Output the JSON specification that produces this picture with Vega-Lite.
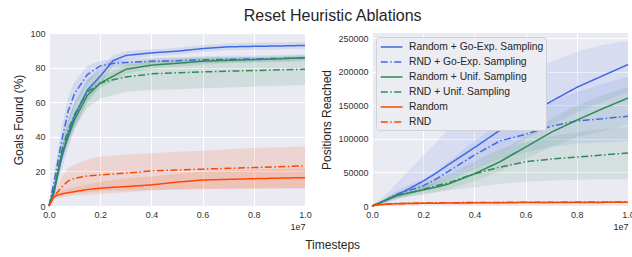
{
"$schema": "https://vega.github.io/schema/vega-lite/v6.json",
"background": "white",
"padding": {"left": 12, "top": 8, "right": 0, "bottom": 2},
"title": {"text": "Reset Heuristic Ablations", "fontSize": 16, "fontWeight": "normal", "font": "Liberation Sans", "color": "#262626", "anchor": "middle", "offset": 5, "dx": 9},
"datasets": {
"goals": [
{"series":"Random + Go-Exp. Sampling","t":0,"mean":0,"lo":0,"hi":0},
{"series":"Random + Go-Exp. Sampling","t":0.02,"mean":10,"lo":6,"hi":14},
{"series":"Random + Go-Exp. Sampling","t":0.05,"mean":28,"lo":21,"hi":35},
{"series":"Random + Go-Exp. Sampling","t":0.075,"mean":42,"lo":34,"hi":50},
{"series":"Random + Go-Exp. Sampling","t":0.1,"mean":52,"lo":44,"hi":60},
{"series":"Random + Go-Exp. Sampling","t":0.15,"mean":67,"lo":61,"hi":73},
{"series":"Random + Go-Exp. Sampling","t":0.2,"mean":75,"lo":70,"hi":80},
{"series":"Random + Go-Exp. Sampling","t":0.25,"mean":84,"lo":81,"hi":87},
{"series":"Random + Go-Exp. Sampling","t":0.3,"mean":87,"lo":84.5,"hi":89.5},
{"series":"Random + Go-Exp. Sampling","t":0.4,"mean":88.5,"lo":86.5,"hi":90.5},
{"series":"Random + Go-Exp. Sampling","t":0.5,"mean":89.5,"lo":87.5,"hi":91.5},
{"series":"Random + Go-Exp. Sampling","t":0.6,"mean":91,"lo":89,"hi":93},
{"series":"Random + Go-Exp. Sampling","t":0.7,"mean":92,"lo":90,"hi":94},
{"series":"Random + Go-Exp. Sampling","t":0.8,"mean":92.3,"lo":90.3,"hi":94.3},
{"series":"Random + Go-Exp. Sampling","t":0.9,"mean":92.5,"lo":90.5,"hi":94.5},
{"series":"Random + Go-Exp. Sampling","t":1,"mean":92.8,"lo":90.8,"hi":94.8},
{"series":"RND + Go-Exp. Sampling","t":0,"mean":0,"lo":0,"hi":0},
{"series":"RND + Go-Exp. Sampling","t":0.02,"mean":14,"lo":9,"hi":19},
{"series":"RND + Go-Exp. Sampling","t":0.05,"mean":38,"lo":30,"hi":46},
{"series":"RND + Go-Exp. Sampling","t":0.075,"mean":55,"lo":47,"hi":63},
{"series":"RND + Go-Exp. Sampling","t":0.1,"mean":65,"lo":58,"hi":72},
{"series":"RND + Go-Exp. Sampling","t":0.15,"mean":76,"lo":71,"hi":81},
{"series":"RND + Go-Exp. Sampling","t":0.2,"mean":81,"lo":78,"hi":84},
{"series":"RND + Go-Exp. Sampling","t":0.25,"mean":82.4,"lo":80.4,"hi":84.4},
{"series":"RND + Go-Exp. Sampling","t":0.3,"mean":83,"lo":81,"hi":85},
{"series":"RND + Go-Exp. Sampling","t":0.4,"mean":83.6,"lo":81.6,"hi":85.6},
{"series":"RND + Go-Exp. Sampling","t":0.5,"mean":84,"lo":82,"hi":86},
{"series":"RND + Go-Exp. Sampling","t":0.6,"mean":84.5,"lo":82.5,"hi":86.5},
{"series":"RND + Go-Exp. Sampling","t":0.7,"mean":84.8,"lo":82.8,"hi":86.8},
{"series":"RND + Go-Exp. Sampling","t":0.8,"mean":85,"lo":83,"hi":87},
{"series":"RND + Go-Exp. Sampling","t":0.9,"mean":85.3,"lo":83.3,"hi":87.3},
{"series":"RND + Go-Exp. Sampling","t":1,"mean":85.7,"lo":83.7,"hi":87.7},
{"series":"Random + Unif. Sampling","t":0,"mean":0,"lo":0,"hi":0},
{"series":"Random + Unif. Sampling","t":0.02,"mean":8,"lo":5,"hi":11},
{"series":"Random + Unif. Sampling","t":0.05,"mean":30,"lo":26,"hi":34},
{"series":"Random + Unif. Sampling","t":0.075,"mean":40,"lo":36,"hi":44},
{"series":"Random + Unif. Sampling","t":0.1,"mean":50,"lo":46,"hi":54},
{"series":"Random + Unif. Sampling","t":0.15,"mean":64,"lo":60,"hi":68},
{"series":"Random + Unif. Sampling","t":0.2,"mean":71,"lo":68,"hi":74},
{"series":"Random + Unif. Sampling","t":0.25,"mean":75,"lo":72,"hi":78},
{"series":"Random + Unif. Sampling","t":0.3,"mean":79,"lo":76.5,"hi":81.5},
{"series":"Random + Unif. Sampling","t":0.4,"mean":81.4,"lo":79.4,"hi":83.4},
{"series":"Random + Unif. Sampling","t":0.5,"mean":82.5,"lo":80.5,"hi":84.5},
{"series":"Random + Unif. Sampling","t":0.6,"mean":83.7,"lo":81.7,"hi":85.7},
{"series":"Random + Unif. Sampling","t":0.7,"mean":84.2,"lo":82.7,"hi":85.7},
{"series":"Random + Unif. Sampling","t":0.8,"mean":84.6,"lo":83.1,"hi":86.1},
{"series":"Random + Unif. Sampling","t":0.9,"mean":85.1,"lo":83.6,"hi":86.6},
{"series":"Random + Unif. Sampling","t":1,"mean":85.7,"lo":84.2,"hi":87.2},
{"series":"RND + Unif. Sampling","t":0,"mean":0,"lo":0,"hi":0},
{"series":"RND + Unif. Sampling","t":0.02,"mean":9,"lo":6,"hi":12},
{"series":"RND + Unif. Sampling","t":0.05,"mean":32,"lo":26,"hi":38},
{"series":"RND + Unif. Sampling","t":0.075,"mean":44,"lo":37,"hi":50},
{"series":"RND + Unif. Sampling","t":0.1,"mean":53,"lo":45,"hi":60},
{"series":"RND + Unif. Sampling","t":0.15,"mean":66,"lo":57,"hi":73},
{"series":"RND + Unif. Sampling","t":0.2,"mean":71,"lo":62,"hi":78},
{"series":"RND + Unif. Sampling","t":0.25,"mean":73,"lo":64,"hi":81},
{"series":"RND + Unif. Sampling","t":0.3,"mean":74.5,"lo":66,"hi":83},
{"series":"RND + Unif. Sampling","t":0.4,"mean":76.4,"lo":67,"hi":85},
{"series":"RND + Unif. Sampling","t":0.5,"mean":77,"lo":67.5,"hi":85.5},
{"series":"RND + Unif. Sampling","t":0.6,"mean":77.5,"lo":68,"hi":86},
{"series":"RND + Unif. Sampling","t":0.7,"mean":77.9,"lo":68.5,"hi":86},
{"series":"RND + Unif. Sampling","t":0.8,"mean":78.3,"lo":69,"hi":86},
{"series":"RND + Unif. Sampling","t":0.9,"mean":78.7,"lo":69.5,"hi":86},
{"series":"RND + Unif. Sampling","t":1,"mean":79,"lo":70,"hi":86.5},
{"series":"Random","t":0,"mean":0,"lo":0,"hi":0},
{"series":"Random","t":0.02,"mean":5.6,"lo":4,"hi":7},
{"series":"Random","t":0.05,"mean":7,"lo":5,"hi":9},
{"series":"Random","t":0.075,"mean":7.7,"lo":5.5,"hi":10},
{"series":"Random","t":0.1,"mean":8.3,"lo":6,"hi":11},
{"series":"Random","t":0.15,"mean":9.5,"lo":6.5,"hi":12.5},
{"series":"Random","t":0.2,"mean":10.3,"lo":7,"hi":14},
{"series":"Random","t":0.25,"mean":10.8,"lo":7.5,"hi":15},
{"series":"Random","t":0.3,"mean":11.2,"lo":8,"hi":16},
{"series":"Random","t":0.4,"mean":12.2,"lo":9,"hi":17},
{"series":"Random","t":0.5,"mean":13.8,"lo":9.5,"hi":18.5},
{"series":"Random","t":0.6,"mean":15,"lo":10,"hi":20},
{"series":"Random","t":0.7,"mean":15.4,"lo":10,"hi":20.5},
{"series":"Random","t":0.8,"mean":15.8,"lo":10.3,"hi":21},
{"series":"Random","t":0.9,"mean":16.1,"lo":10.3,"hi":21.5},
{"series":"Random","t":1,"mean":16.4,"lo":10.3,"hi":22},
{"series":"RND","t":0,"mean":0,"lo":0,"hi":0},
{"series":"RND","t":0.02,"mean":5.6,"lo":4,"hi":8},
{"series":"RND","t":0.05,"mean":11,"lo":6,"hi":17},
{"series":"RND","t":0.075,"mean":14.5,"lo":7,"hi":22},
{"series":"RND","t":0.1,"mean":16,"lo":7.5,"hi":24},
{"series":"RND","t":0.15,"mean":17.4,"lo":8,"hi":27},
{"series":"RND","t":0.2,"mean":18,"lo":8.5,"hi":28.6},
{"series":"RND","t":0.25,"mean":18.5,"lo":9,"hi":29.2},
{"series":"RND","t":0.3,"mean":19,"lo":9,"hi":29.7},
{"series":"RND","t":0.4,"mean":20.3,"lo":9.3,"hi":30.5},
{"series":"RND","t":0.5,"mean":20.8,"lo":9.5,"hi":31.3},
{"series":"RND","t":0.6,"mean":21.3,"lo":9.7,"hi":32},
{"series":"RND","t":0.7,"mean":21.8,"lo":9.9,"hi":32.8},
{"series":"RND","t":0.8,"mean":22.2,"lo":10,"hi":33.5},
{"series":"RND","t":0.9,"mean":22.7,"lo":10.1,"hi":34},
{"series":"RND","t":1,"mean":23.2,"lo":10.3,"hi":34.4}
],
"positions": [
{"series":"Random + Go-Exp. Sampling","t":0,"mean":0,"lo":0,"hi":0},
{"series":"Random + Go-Exp. Sampling","t":0.02,"mean":3000,"lo":1000,"hi":7000},
{"series":"Random + Go-Exp. Sampling","t":0.05,"mean":8000,"lo":4000,"hi":16000},
{"series":"Random + Go-Exp. Sampling","t":0.075,"mean":13000,"lo":7000,"hi":25000},
{"series":"Random + Go-Exp. Sampling","t":0.1,"mean":17000,"lo":10000,"hi":35000},
{"series":"Random + Go-Exp. Sampling","t":0.15,"mean":27000,"lo":17000,"hi":55000},
{"series":"Random + Go-Exp. Sampling","t":0.2,"mean":37000,"lo":25000,"hi":75000},
{"series":"Random + Go-Exp. Sampling","t":0.25,"mean":49000,"lo":33000,"hi":95000},
{"series":"Random + Go-Exp. Sampling","t":0.3,"mean":62000,"lo":42000,"hi":115000},
{"series":"Random + Go-Exp. Sampling","t":0.4,"mean":87000,"lo":60000,"hi":150000},
{"series":"Random + Go-Exp. Sampling","t":0.5,"mean":113000,"lo":80000,"hi":175000},
{"series":"Random + Go-Exp. Sampling","t":0.6,"mean":135000,"lo":100000,"hi":198000},
{"series":"Random + Go-Exp. Sampling","t":0.7,"mean":156000,"lo":120000,"hi":215000},
{"series":"Random + Go-Exp. Sampling","t":0.8,"mean":177000,"lo":140000,"hi":230000},
{"series":"Random + Go-Exp. Sampling","t":0.9,"mean":194000,"lo":155000,"hi":240000},
{"series":"Random + Go-Exp. Sampling","t":1,"mean":211000,"lo":170000,"hi":246000},
{"series":"RND + Go-Exp. Sampling","t":0,"mean":0,"lo":0,"hi":0},
{"series":"RND + Go-Exp. Sampling","t":0.02,"mean":3000,"lo":2000,"hi":5000},
{"series":"RND + Go-Exp. Sampling","t":0.05,"mean":8000,"lo":5000,"hi":11000},
{"series":"RND + Go-Exp. Sampling","t":0.075,"mean":13000,"lo":9000,"hi":17000},
{"series":"RND + Go-Exp. Sampling","t":0.1,"mean":18000,"lo":12000,"hi":24000},
{"series":"RND + Go-Exp. Sampling","t":0.15,"mean":24000,"lo":17000,"hi":32000},
{"series":"RND + Go-Exp. Sampling","t":0.2,"mean":30000,"lo":22000,"hi":40000},
{"series":"RND + Go-Exp. Sampling","t":0.25,"mean":40000,"lo":30000,"hi":52000},
{"series":"RND + Go-Exp. Sampling","t":0.3,"mean":52000,"lo":38000,"hi":66000},
{"series":"RND + Go-Exp. Sampling","t":0.4,"mean":76000,"lo":55000,"hi":97000},
{"series":"RND + Go-Exp. Sampling","t":0.5,"mean":97000,"lo":70000,"hi":125000},
{"series":"RND + Go-Exp. Sampling","t":0.6,"mean":107000,"lo":80000,"hi":140000},
{"series":"RND + Go-Exp. Sampling","t":0.7,"mean":119000,"lo":88000,"hi":155000},
{"series":"RND + Go-Exp. Sampling","t":0.8,"mean":127000,"lo":93000,"hi":170000},
{"series":"RND + Go-Exp. Sampling","t":0.9,"mean":130000,"lo":95000,"hi":182000},
{"series":"RND + Go-Exp. Sampling","t":1,"mean":134000,"lo":97000,"hi":193000},
{"series":"Random + Unif. Sampling","t":0,"mean":0,"lo":0,"hi":0},
{"series":"Random + Unif. Sampling","t":0.02,"mean":3000,"lo":2000,"hi":4000},
{"series":"Random + Unif. Sampling","t":0.05,"mean":8000,"lo":6000,"hi":10000},
{"series":"Random + Unif. Sampling","t":0.075,"mean":12000,"lo":9000,"hi":15000},
{"series":"Random + Unif. Sampling","t":0.1,"mean":16000,"lo":12000,"hi":20000},
{"series":"Random + Unif. Sampling","t":0.15,"mean":20000,"lo":15000,"hi":25000},
{"series":"Random + Unif. Sampling","t":0.2,"mean":24000,"lo":18000,"hi":30000},
{"series":"Random + Unif. Sampling","t":0.25,"mean":28000,"lo":21000,"hi":35000},
{"series":"Random + Unif. Sampling","t":0.3,"mean":33000,"lo":25000,"hi":41000},
{"series":"Random + Unif. Sampling","t":0.4,"mean":48000,"lo":37000,"hi":59000},
{"series":"Random + Unif. Sampling","t":0.5,"mean":66000,"lo":52000,"hi":80000},
{"series":"Random + Unif. Sampling","t":0.6,"mean":88000,"lo":70000,"hi":105000},
{"series":"Random + Unif. Sampling","t":0.7,"mean":110000,"lo":88000,"hi":130000},
{"series":"Random + Unif. Sampling","t":0.8,"mean":128000,"lo":103000,"hi":150000},
{"series":"Random + Unif. Sampling","t":0.9,"mean":145000,"lo":112000,"hi":165000},
{"series":"Random + Unif. Sampling","t":1,"mean":161000,"lo":121000,"hi":177000},
{"series":"RND + Unif. Sampling","t":0,"mean":0,"lo":0,"hi":0},
{"series":"RND + Unif. Sampling","t":0.02,"mean":3000,"lo":2000,"hi":4000},
{"series":"RND + Unif. Sampling","t":0.05,"mean":8000,"lo":5000,"hi":11000},
{"series":"RND + Unif. Sampling","t":0.075,"mean":12000,"lo":8000,"hi":16000},
{"series":"RND + Unif. Sampling","t":0.1,"mean":16000,"lo":11000,"hi":21000},
{"series":"RND + Unif. Sampling","t":0.15,"mean":20000,"lo":14000,"hi":27000},
{"series":"RND + Unif. Sampling","t":0.2,"mean":25000,"lo":17000,"hi":33000},
{"series":"RND + Unif. Sampling","t":0.25,"mean":30000,"lo":20000,"hi":40000},
{"series":"RND + Unif. Sampling","t":0.3,"mean":35000,"lo":23000,"hi":47000},
{"series":"RND + Unif. Sampling","t":0.4,"mean":48000,"lo":28000,"hi":66000},
{"series":"RND + Unif. Sampling","t":0.5,"mean":58000,"lo":33000,"hi":85000},
{"series":"RND + Unif. Sampling","t":0.6,"mean":66000,"lo":36000,"hi":95000},
{"series":"RND + Unif. Sampling","t":0.7,"mean":70000,"lo":38000,"hi":104000},
{"series":"RND + Unif. Sampling","t":0.8,"mean":73000,"lo":39000,"hi":110000},
{"series":"RND + Unif. Sampling","t":0.9,"mean":76000,"lo":40000,"hi":115000},
{"series":"RND + Unif. Sampling","t":1,"mean":79000,"lo":40000,"hi":118000},
{"series":"Random","t":0,"mean":0,"lo":0,"hi":0},
{"series":"Random","t":0.02,"mean":1500,"lo":500,"hi":2500},
{"series":"Random","t":0.05,"mean":2500,"lo":1500,"hi":3500},
{"series":"Random","t":0.075,"mean":3000,"lo":2000,"hi":4000},
{"series":"Random","t":0.1,"mean":3300,"lo":2300,"hi":4300},
{"series":"Random","t":0.15,"mean":3700,"lo":2700,"hi":4700},
{"series":"Random","t":0.2,"mean":4000,"lo":3000,"hi":5000},
{"series":"Random","t":0.25,"mean":4200,"lo":3200,"hi":5200},
{"series":"Random","t":0.3,"mean":4400,"lo":3400,"hi":5400},
{"series":"Random","t":0.4,"mean":4700,"lo":3700,"hi":5700},
{"series":"Random","t":0.5,"mean":4900,"lo":3900,"hi":5900},
{"series":"Random","t":0.6,"mean":5100,"lo":4100,"hi":6100},
{"series":"Random","t":0.7,"mean":5200,"lo":4200,"hi":6200},
{"series":"Random","t":0.8,"mean":5300,"lo":4300,"hi":6300},
{"series":"Random","t":0.9,"mean":5400,"lo":4400,"hi":6400},
{"series":"Random","t":1,"mean":5500,"lo":4500,"hi":6500},
{"series":"RND","t":0,"mean":0,"lo":0,"hi":0},
{"series":"RND","t":0.02,"mean":1800,"lo":800,"hi":2800},
{"series":"RND","t":0.05,"mean":3000,"lo":1500,"hi":4500},
{"series":"RND","t":0.075,"mean":3500,"lo":2000,"hi":5000},
{"series":"RND","t":0.1,"mean":3800,"lo":2300,"hi":5300},
{"series":"RND","t":0.15,"mean":4200,"lo":2700,"hi":5700},
{"series":"RND","t":0.2,"mean":4500,"lo":3000,"hi":6000},
{"series":"RND","t":0.25,"mean":4700,"lo":3200,"hi":6200},
{"series":"RND","t":0.3,"mean":4900,"lo":3400,"hi":6400},
{"series":"RND","t":0.4,"mean":5200,"lo":3700,"hi":6700},
{"series":"RND","t":0.5,"mean":5400,"lo":3900,"hi":6900},
{"series":"RND","t":0.6,"mean":5600,"lo":4100,"hi":7100},
{"series":"RND","t":0.7,"mean":5700,"lo":4200,"hi":7200},
{"series":"RND","t":0.8,"mean":5900,"lo":4400,"hi":7400},
{"series":"RND","t":0.9,"mean":6000,"lo":4500,"hi":7500},
{"series":"RND","t":1,"mean":6200,"lo":4700,"hi":7700}
]
},
"vconcat": [{
  "title": {"text": "Timesteps", "orient": "bottom", "fontSize": 12, "fontWeight": "normal", "font": "Liberation Sans", "color": "#262626", "anchor": "middle", "offset": 9, "dx": 9},
  "spacing": 8,
  "resolve": {
    "scale": {"x": "independent", "y": "independent", "fill": "independent", "stroke": "independent", "strokeDash": "independent"},
    "legend": {"fill": "independent", "stroke": "independent", "strokeDash": "independent"}
  },
  "hconcat": [
    {
      "width": 256, "height": 173,
      "data": {"name": "goals"},
      "encoding": {
        "x": {"field": "t", "type": "quantitative", "scale": {"domain": [0, 1], "nice": false, "zero": false},
              "axis": {"title": "1e7", "titleAnchor": "end", "titleAlign": "right", "titleFontSize": 9, "titlePadding": 3, "values": [0, 0.2, 0.4, 0.6, 0.8, 1], "format": ".1f"}}
      },
      "layer": [
        {
          "mark": {"type": "area", "fillOpacity": 0.13},
          "encoding": {
            "y": {"field": "lo", "type": "quantitative", "scale": {"domain": [0, 100], "nice": false}, "axis": {"title": "Goals Found (%)", "values": [0, 20, 40, 60, 80, 100]}},
            "y2": {"field": "hi"},
            "fill": {"field": "series", "type": "nominal", "legend": null,
              "scale": {"domain": ["RND", "Random", "RND + Unif. Sampling", "Random + Unif. Sampling", "RND + Go-Exp. Sampling", "Random + Go-Exp. Sampling"],
                        "range": ["#FF4500", "#FF4500", "#2E8B57", "#2E8B57", "#4169E1", "#4169E1"]}}
          }
        },
        {
          "mark": {"type": "line", "strokeWidth": 1.5},
          "encoding": {
            "y": {"field": "mean", "type": "quantitative", "axis": {"title": "Goals Found (%)", "values": [0, 20, 40, 60, 80, 100]}},
            "stroke": {"field": "series", "type": "nominal", "legend": null,
              "scale": {"domain": ["Random + Go-Exp. Sampling", "RND + Go-Exp. Sampling", "Random + Unif. Sampling", "RND + Unif. Sampling", "Random", "RND"],
                        "range": ["#4169E1", "#4169E1", "#2E8B57", "#2E8B57", "#FF4500", "#FF4500"]}},
            "strokeDash": {"field": "series", "type": "nominal", "legend": null,
              "scale": {"domain": ["Random + Go-Exp. Sampling", "RND + Go-Exp. Sampling", "Random + Unif. Sampling", "RND + Unif. Sampling", "Random", "RND"],
                        "range": [[1, 0], [7, 2.5, 1.5, 2.5], [1, 0], [7, 2.5, 1.5, 2.5], [1, 0], [7, 2.5, 1.5, 2.5]]}}
          }
        }
      ]
    },
    {
      "width": 256, "height": 173,
      "data": {"name": "positions"},
      "encoding": {
        "x": {"field": "t", "type": "quantitative", "scale": {"domain": [0, 1], "nice": false, "zero": false},
              "axis": {"title": "1e7", "titleAnchor": "end", "titleAlign": "right", "titleFontSize": 9, "titlePadding": 3, "values": [0, 0.2, 0.4, 0.6, 0.8, 1], "format": ".1f"}}
      },
      "layer": [
        {
          "mark": {"type": "area", "fillOpacity": 0.11},
          "encoding": {
            "y": {"field": "lo", "type": "quantitative", "scale": {"domain": [0, 258000], "nice": false}, "axis": {"title": "Positions Reached", "values": [0, 50000, 100000, 150000, 200000, 250000], "format": "d"}},
            "y2": {"field": "hi"},
            "fill": {"field": "series", "type": "nominal", "legend": null,
              "scale": {"domain": ["RND", "Random", "RND + Unif. Sampling", "Random + Unif. Sampling", "RND + Go-Exp. Sampling", "Random + Go-Exp. Sampling"],
                        "range": ["#FF4500", "#FF4500", "#2E8B57", "#2E8B57", "#4169E1", "#4169E1"]}}
          }
        },
        {
          "mark": {"type": "line", "strokeWidth": 1.5},
          "encoding": {
            "y": {"field": "mean", "type": "quantitative", "axis": {"title": "Positions Reached", "values": [0, 50000, 100000, 150000, 200000, 250000], "format": "d"}},
            "stroke": {"field": "series", "type": "nominal",
              "legend": {"orient": "top-left", "offset": 4, "title": null, "symbolType": "M-0.75,0H2.35", "symbolSize": 196, "symbolStrokeWidth": 1.5, "labelFontSize": 10.3, "labelColor": "#262626", "labelOffset": 15, "rowPadding": 1, "padding": 2, "fillColor": "#ECECF3", "strokeColor": "#D0D0D8", "cornerRadius": 3, "labelLimit": 300},
              "scale": {"domain": ["Random + Go-Exp. Sampling", "RND + Go-Exp. Sampling", "Random + Unif. Sampling", "RND + Unif. Sampling", "Random", "RND"],
                        "range": ["#4169E1", "#4169E1", "#2E8B57", "#2E8B57", "#FF4500", "#FF4500"]}},
            "strokeDash": {"field": "series", "type": "nominal",
              "legend": {"orient": "top-left", "offset": 4, "title": null, "symbolType": "M-0.75,0H2.35", "symbolSize": 196, "symbolStrokeWidth": 1.5, "labelFontSize": 10.3, "labelColor": "#262626", "labelOffset": 15, "rowPadding": 1, "padding": 2, "fillColor": "#ECECF3", "strokeColor": "#D0D0D8", "cornerRadius": 3, "labelLimit": 300},
              "scale": {"domain": ["Random + Go-Exp. Sampling", "RND + Go-Exp. Sampling", "Random + Unif. Sampling", "RND + Unif. Sampling", "Random", "RND"],
                        "range": [[1, 0], [7, 2.5, 1.5, 2.5], [1, 0], [7, 2.5, 1.5, 2.5], [1, 0], [7, 2.5, 1.5, 2.5]]}}
          }
        }
      ]
    }
  ]
}],
"config": {
  "font": "Liberation Sans",
  "view": {"fill": "#EAEAF2", "stroke": null},
  "axis": {"domain": false, "ticks": false, "grid": true, "gridColor": "#FFFFFF", "gridWidth": 1, "labelFont": "Liberation Sans", "labelFontSize": 9, "labelColor": "#333333", "labelPadding": 4, "titleFont": "Liberation Sans", "titleFontSize": 12, "titleFontWeight": "normal", "titleColor": "#262626", "labelFlush": false, "labelOverlap": false},
  "axisY": {"titlePadding": 4},
  "legend": {"labelFont": "Liberation Sans"}
}
}
